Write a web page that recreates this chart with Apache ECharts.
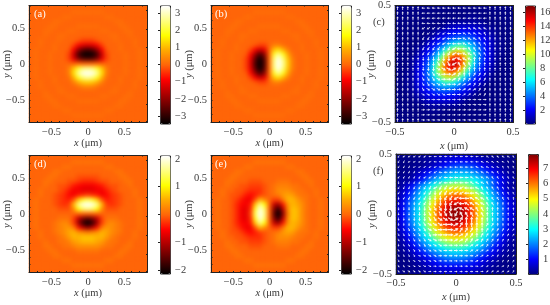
<!DOCTYPE html>
<html><head><meta charset="utf-8">
<style>html,body{margin:0;padding:0;background:#fff}#c{width:550px;height:305px}</style>
<script src="https://cdn.jsdelivr.net/npm/echarts@6/dist/echarts.min.js"></script>
</head><body><div id="c"></div>
<script>
// Field values on a 25x25 lattice, top row first (tenths of the colourbar unit)
const fieldA=[
[0,0,0,0,0,0,0,0,0,0,0,0,0,0,0,0,0,0,0,0,0,0,0,0,0],
[0,0,0,0,0,0,0,0,0,1,1,1,1,1,1,1,0,0,0,0,0,0,0,0,0],
[0,0,0,0,0,0,0,1,1,0,0,0,0,0,0,0,1,1,0,0,0,0,0,0,0],
[0,0,0,0,0,1,1,0,0,0,0,0,0,0,0,0,0,0,1,1,0,0,0,0,0],
[0,0,0,0,1,1,0,0,0,0,1,1,1,1,1,0,0,0,0,1,1,0,0,0,0],
[0,0,0,1,1,0,0,0,1,1,0,0,0,0,0,1,1,0,0,0,1,1,0,0,0],
[0,0,0,1,0,0,1,1,0,0,0,0,0,0,0,0,0,1,1,0,0,1,0,0,0],
[0,0,1,0,0,0,1,0,0,0,-1,-3,-3,-3,-1,0,0,0,1,0,0,0,1,0,0],
[0,0,1,0,0,1,0,0,0,-3,-8,-11,-12,-11,-8,-3,0,0,0,1,0,0,1,0,0],
[0,1,0,0,0,1,0,0,-1,-9,-19,-25,-27,-25,-19,-9,-1,0,0,1,0,0,0,1,0],
[0,1,0,0,1,0,0,0,-3,-14,-27,-33,-34,-33,-27,-14,-3,0,0,0,1,0,0,1,0],
[0,1,0,0,1,0,0,0,-3,-11,-20,-25,-26,-25,-20,-11,-3,0,0,0,1,0,0,1,0],
[0,1,0,0,1,0,0,0,0,0,0,0,0,0,0,0,0,0,0,0,1,0,0,1,0],
[0,1,0,0,1,0,0,0,3,11,20,25,26,25,20,11,3,0,0,0,1,0,0,1,0],
[0,1,0,0,1,0,0,0,3,14,27,33,34,33,27,14,3,0,0,0,1,0,0,1,0],
[0,1,0,0,0,1,0,0,1,9,19,25,27,25,19,9,1,0,0,1,0,0,0,1,0],
[0,0,1,0,0,1,0,0,0,3,8,11,12,11,8,3,0,0,0,1,0,0,1,0,0],
[0,0,1,0,0,0,1,0,0,0,1,3,3,3,1,0,0,0,1,0,0,0,1,0,0],
[0,0,0,1,0,0,1,1,0,0,0,0,0,0,0,0,0,1,1,0,0,1,0,0,0],
[0,0,0,1,1,0,0,0,1,1,0,0,0,0,0,1,1,0,0,0,1,1,0,0,0],
[0,0,0,0,1,1,0,0,0,0,1,1,1,1,1,0,0,0,0,1,1,0,0,0,0],
[0,0,0,0,0,1,1,0,0,0,0,0,0,0,0,0,0,0,1,1,0,0,0,0,0],
[0,0,0,0,0,0,0,1,1,0,0,0,0,0,0,0,1,1,0,0,0,0,0,0,0],
[0,0,0,0,0,0,0,0,0,1,1,1,1,1,1,1,0,0,0,0,0,0,0,0,0],
[0,0,0,0,0,0,0,0,0,0,0,0,0,0,0,0,0,0,0,0,0,0,0,0,0]];
const fieldB=[
[0,0,0,0,0,0,0,0,0,0,0,0,0,0,0,0,0,0,0,0,0,0,0,0,0],
[0,0,0,0,0,0,0,0,0,1,1,1,1,1,1,1,0,0,0,0,0,0,0,0,0],
[0,0,0,0,0,0,0,1,1,0,0,0,0,0,0,0,1,1,0,0,0,0,0,0,0],
[0,0,0,0,0,1,1,0,0,0,0,0,0,0,0,0,0,0,1,1,0,0,0,0,0],
[0,0,0,0,1,1,0,0,0,0,1,1,1,1,1,0,0,0,0,1,1,0,0,0,0],
[0,0,0,1,1,0,0,0,1,1,0,0,0,0,0,1,1,0,0,0,1,1,0,0,0],
[0,0,0,1,0,0,1,1,0,0,0,0,0,0,0,0,0,1,1,0,0,1,0,0,0],
[0,0,1,0,0,0,1,0,0,0,0,0,0,0,0,0,0,0,1,0,0,0,1,0,0],
[0,0,1,0,0,1,0,0,0,-1,-3,-3,0,3,3,1,0,0,0,1,0,0,1,0,0],
[0,1,0,0,0,1,0,0,-3,-9,-14,-11,0,11,14,9,3,0,0,1,0,0,0,1,0],
[0,1,0,0,1,0,0,-1,-8,-19,-27,-20,0,20,27,19,8,1,0,0,1,0,0,1,0],
[0,1,0,0,1,0,0,-3,-11,-25,-33,-25,0,25,33,25,11,3,0,0,1,0,0,1,0],
[0,1,0,0,1,0,0,-3,-12,-27,-34,-26,0,26,34,27,12,3,0,0,1,0,0,1,0],
[0,1,0,0,1,0,0,-3,-11,-25,-33,-25,0,25,33,25,11,3,0,0,1,0,0,1,0],
[0,1,0,0,1,0,0,-1,-8,-19,-27,-20,0,20,27,19,8,1,0,0,1,0,0,1,0],
[0,1,0,0,0,1,0,0,-3,-9,-14,-11,0,11,14,9,3,0,0,1,0,0,0,1,0],
[0,0,1,0,0,1,0,0,0,-1,-3,-3,0,3,3,1,0,0,0,1,0,0,1,0,0],
[0,0,1,0,0,0,1,0,0,0,0,0,0,0,0,0,0,0,1,0,0,0,1,0,0],
[0,0,0,1,0,0,1,1,0,0,0,0,0,0,0,0,0,1,1,0,0,1,0,0,0],
[0,0,0,1,1,0,0,0,1,1,0,0,0,0,0,1,1,0,0,0,1,1,0,0,0],
[0,0,0,0,1,1,0,0,0,0,1,1,1,1,1,0,0,0,0,1,1,0,0,0,0],
[0,0,0,0,0,1,1,0,0,0,0,0,0,0,0,0,0,0,1,1,0,0,0,0,0],
[0,0,0,0,0,0,0,1,1,0,0,0,0,0,0,0,1,1,0,0,0,0,0,0,0],
[0,0,0,0,0,0,0,0,0,1,1,1,1,1,1,1,0,0,0,0,0,0,0,0,0],
[0,0,0,0,0,0,0,0,0,0,0,0,0,0,0,0,0,0,0,0,0,0,0,0,0]];
const fieldD=[
[0,0,0,0,0,0,0,0,0,0,0,0,0,0,0,0,0,0,0,0,0,0,0,0,0],
[0,0,0,0,0,0,0,0,0,1,1,1,1,1,1,1,0,0,0,0,0,0,0,0,0],
[0,0,0,0,0,0,0,1,1,0,0,0,0,0,0,0,1,1,0,0,0,0,0,0,0],
[0,0,0,0,0,1,1,0,0,0,0,0,0,0,0,0,0,0,1,1,0,0,0,0,0],
[0,0,0,0,1,1,0,0,0,0,-1,-1,-1,-1,-1,0,0,0,0,1,1,0,0,0,0],
[0,0,0,1,1,0,0,0,-1,-1,-2,-3,-3,-3,-2,-1,-1,0,0,0,1,1,0,0,0],
[0,0,0,1,0,0,-1,-1,-2,-4,-5,-6,-6,-6,-5,-4,-2,-1,-1,0,0,1,0,0,0],
[0,0,1,0,0,0,-1,-2,-4,-6,-6,-7,-7,-7,-6,-6,-4,-2,-1,0,0,0,1,0,0],
[0,0,1,0,0,-1,-2,-3,-5,-6,-4,-3,-2,-3,-4,-6,-5,-3,-2,-1,0,0,1,0,0],
[0,1,0,0,0,-1,-2,-3,-4,-1,7,12,14,12,7,-1,-4,-3,-2,-1,0,0,0,1,0],
[0,1,0,0,0,-1,-2,-3,-2,6,16,20,21,20,16,6,-2,-3,-2,-1,0,0,0,1,0],
[0,1,0,0,0,0,-1,-1,-1,3,11,15,16,15,11,3,-1,-1,-1,0,0,0,0,1,0],
[0,1,0,0,0,0,0,0,0,0,0,0,0,0,0,0,0,0,0,0,0,0,0,1,0],
[0,1,0,0,0,0,1,1,1,-2,-9,-13,-15,-13,-9,-2,1,1,1,0,0,0,0,1,0],
[0,1,0,0,0,1,2,3,2,-2,-11,-18,-21,-18,-11,-2,2,3,2,1,0,0,0,1,0],
[0,1,0,0,0,1,2,3,4,2,-4,-9,-12,-9,-4,2,4,3,2,1,0,0,0,1,0],
[0,0,1,0,0,1,2,3,5,6,4,3,2,3,4,6,5,3,2,1,0,0,1,0,0],
[0,0,1,0,0,0,1,2,4,6,6,7,7,7,6,6,4,2,1,0,0,0,1,0,0],
[0,0,0,1,0,0,1,1,2,4,5,6,6,6,5,4,2,1,1,0,0,1,0,0,0],
[0,0,0,1,1,0,0,1,1,2,3,3,3,3,3,2,1,1,0,0,1,1,0,0,0],
[0,0,0,0,1,1,0,0,0,0,1,1,1,1,1,0,0,0,0,1,1,0,0,0,0],
[0,0,0,0,0,1,1,0,0,0,0,0,0,0,0,0,0,0,1,1,0,0,0,0,0],
[0,0,0,0,0,0,0,1,1,0,0,0,0,0,0,0,1,1,0,0,0,0,0,0,0],
[0,0,0,0,0,0,0,0,0,1,1,1,1,1,1,1,0,0,0,0,0,0,0,0,0],
[0,0,0,0,0,0,0,0,0,0,0,0,0,0,0,0,0,0,0,0,0,0,0,0,0]];
const fieldE=[
[0,0,0,0,0,0,0,0,0,0,0,0,0,0,0,0,0,0,0,0,0,0,0,0,0],
[0,0,0,0,0,0,0,0,0,1,1,1,1,1,1,1,0,0,0,0,0,0,0,0,0],
[0,0,0,0,0,0,0,1,1,0,0,0,0,0,0,0,1,1,0,0,0,0,0,0,0],
[0,0,0,0,0,1,1,0,0,0,0,0,0,0,0,0,0,0,1,1,0,0,0,0,0],
[0,0,0,0,1,1,0,0,0,0,0,0,0,0,0,0,0,0,0,1,1,0,0,0,0],
[0,0,0,1,1,0,0,0,-1,-1,-1,0,0,0,1,1,1,0,0,0,1,1,0,0,0],
[0,0,0,1,0,0,-1,-1,-2,-2,-2,-1,0,1,2,2,2,1,1,0,0,1,0,0,0],
[0,0,1,0,0,-1,-1,-2,-3,-3,-3,-1,0,1,3,3,3,2,1,1,0,0,1,0,0],
[0,0,1,0,-1,-1,-2,-4,-5,-4,-2,-1,0,1,2,4,5,4,2,1,1,0,1,0,0],
[0,1,0,0,-1,-2,-4,-6,-6,-1,6,3,0,-2,-2,2,6,6,4,2,1,0,0,1,0],
[0,1,0,0,-1,-3,-5,-6,-4,7,16,11,0,-9,-11,-4,4,6,5,3,1,0,0,1,0],
[0,1,0,0,-1,-3,-6,-7,-3,12,20,15,0,-13,-18,-9,3,7,6,3,1,0,0,1,0],
[0,1,0,0,-1,-3,-6,-7,-2,14,21,16,0,-15,-21,-12,2,7,6,3,1,0,0,1,0],
[0,1,0,0,-1,-3,-6,-7,-3,12,20,15,0,-13,-18,-9,3,7,6,3,1,0,0,1,0],
[0,1,0,0,-1,-3,-5,-6,-4,7,16,11,0,-9,-11,-4,4,6,5,3,1,0,0,1,0],
[0,1,0,0,-1,-2,-4,-6,-6,-1,6,3,0,-2,-2,2,6,6,4,2,1,0,0,1,0],
[0,0,1,0,-1,-1,-2,-4,-5,-4,-2,-1,0,1,2,4,5,4,2,1,1,0,1,0,0],
[0,0,1,0,0,-1,-1,-2,-3,-3,-3,-1,0,1,3,3,3,2,1,1,0,0,1,0,0],
[0,0,0,1,0,0,-1,-1,-2,-2,-2,-1,0,1,2,2,2,1,1,0,0,1,0,0,0],
[0,0,0,1,1,0,0,0,-1,-1,-1,0,0,0,1,1,1,0,0,0,1,1,0,0,0],
[0,0,0,0,1,1,0,0,0,0,0,0,0,0,0,0,0,0,0,1,1,0,0,0,0],
[0,0,0,0,0,1,1,0,0,0,0,0,0,0,0,0,0,0,1,1,0,0,0,0,0],
[0,0,0,0,0,0,0,1,1,0,0,0,0,0,0,0,1,1,0,0,0,0,0,0,0],
[0,0,0,0,0,0,0,0,0,1,1,1,1,1,1,1,0,0,0,0,0,0,0,0,0],
[0,0,0,0,0,0,0,0,0,0,0,0,0,0,0,0,0,0,0,0,0,0,0,0,0]];
const fieldC=[
[2,2,2,2,2,2,2,2,2,2,2,2,2,2,2,2,2,2,2,2,2,2,2,2,2],
[2,2,2,2,2,2,2,2,2,2,2,2,2,2,2,2,2,2,2,2,2,2,2,2,2],
[2,2,2,2,2,2,2,2,2,2,2,2,2,2,2,5,5,5,2,2,2,2,2,2,2],
[2,2,2,2,2,2,2,2,2,2,2,5,5,6,6,6,6,6,5,2,2,2,2,2,2],
[2,2,2,2,2,2,2,2,2,2,6,10,12,14,14,14,14,12,10,6,5,2,2,2,2],
[2,2,2,2,2,2,2,2,5,10,12,17,20,21,23,21,20,19,14,10,6,5,2,2,2],
[2,2,2,2,2,2,2,5,10,16,20,26,30,32,34,32,30,24,19,14,10,5,2,2,2],
[2,2,2,2,2,2,5,12,17,23,31,39,44,48,49,44,40,31,24,19,12,6,5,2,2],
[2,2,2,2,2,5,10,17,24,34,43,56,66,73,72,60,50,40,30,20,14,6,5,2,2],
[2,2,2,2,5,10,16,23,34,47,63,79,95,100,94,78,60,44,32,21,14,6,5,2,2],
[2,2,2,2,6,12,20,30,43,63,87,109,125,128,115,94,72,49,34,23,14,6,5,2,2],
[2,2,2,5,10,17,26,39,56,79,109,135,151,147,128,100,73,48,32,21,14,6,2,2,2],
[2,2,2,5,12,19,30,44,66,95,125,151,165,151,125,95,66,44,30,19,12,5,2,2,2],
[2,2,2,6,14,21,32,48,73,100,128,147,151,135,109,79,56,39,26,17,10,5,2,2,2],
[2,2,5,6,14,23,34,49,72,94,115,128,125,109,87,63,43,30,20,12,6,2,2,2,2],
[2,2,5,6,14,21,32,44,60,78,94,100,95,79,63,47,34,23,16,10,5,2,2,2,2],
[2,2,5,6,14,20,30,40,50,60,72,73,66,56,43,34,24,17,10,5,2,2,2,2,2],
[2,2,5,6,12,19,24,31,40,44,49,48,44,39,31,23,17,12,5,2,2,2,2,2,2],
[2,2,2,5,10,14,19,24,30,32,34,32,30,26,20,16,10,5,2,2,2,2,2,2,2],
[2,2,2,5,6,10,14,19,20,21,23,21,20,17,12,10,5,2,2,2,2,2,2,2,2],
[2,2,2,2,5,6,10,12,14,14,14,14,12,10,6,2,2,2,2,2,2,2,2,2,2],
[2,2,2,2,2,2,5,6,6,6,6,6,5,5,2,2,2,2,2,2,2,2,2,2,2],
[2,2,2,2,2,2,2,5,5,5,2,2,2,2,2,2,2,2,2,2,2,2,2,2,2],
[2,2,2,2,2,2,2,2,2,2,2,2,2,2,2,2,2,2,2,2,2,2,2,2,2],
[2,2,2,2,2,2,2,2,2,2,2,2,2,2,2,2,2,2,2,2,2,2,2,2,2]];
const fieldF=[
[1,1,1,1,1,2,2,3,4,5,6,6,6,6,6,5,4,3,2,2,1,1,1,1,1],
[1,1,1,1,2,2,3,4,5,7,8,9,10,10,10,9,8,7,5,4,3,2,2,1,1],
[1,1,1,2,2,2,4,5,7,9,11,14,15,16,16,15,14,11,9,7,5,4,2,2,1],
[1,1,2,2,4,6,8,11,14,17,19,21,22,22,22,21,19,17,14,11,8,6,4,2,1],
[1,2,2,4,6,9,12,16,19,22,24,26,27,27,27,26,24,22,19,16,12,9,6,4,2],
[2,3,2,5,8,12,17,21,25,27,30,33,34,35,34,33,30,27,25,21,17,12,8,5,3],
[2,4,7,11,16,21,24,29,33,38,41,43,44,43,41,38,33,29,24,21,16,11,7,4,2],
[3,5,9,14,19,25,29,35,41,45,49,51,52,51,49,45,41,35,29,25,19,14,9,5,3],
[4,7,11,17,22,27,33,41,47,52,56,59,60,59,56,52,47,41,33,27,22,17,11,7,4],
[5,8,14,19,24,30,38,45,52,58,63,66,67,66,63,58,52,45,38,30,24,19,14,8,5],
[6,9,15,21,26,33,41,49,56,63,68,72,74,72,68,63,56,49,41,33,26,21,15,9,6],
[6,10,16,22,27,34,43,51,59,66,72,76,78,76,72,66,59,51,43,34,27,22,16,10,6],
[6,10,16,22,27,35,44,52,60,67,74,78,78,78,74,67,60,52,44,35,27,22,16,10,6],
[6,10,16,22,27,34,43,51,59,66,72,76,78,76,72,66,59,51,43,34,27,22,16,10,6],
[6,9,15,21,26,33,41,49,56,63,68,72,74,72,68,63,56,49,41,33,26,21,15,9,6],
[5,8,14,19,24,30,38,45,52,58,63,66,67,66,63,58,52,45,38,30,24,19,14,8,5],
[4,7,11,17,22,27,33,41,47,52,56,59,60,59,56,52,47,41,33,27,22,17,11,7,4],
[3,5,9,14,19,25,29,35,41,45,49,51,52,51,49,45,41,35,29,25,19,14,9,5,3],
[2,4,7,11,16,21,24,29,33,38,41,43,44,43,41,38,33,29,24,21,16,11,7,4,2],
[2,3,5,8,12,17,21,25,27,30,33,34,35,34,33,30,27,25,21,17,12,8,5,3,2],
[1,2,4,6,9,12,16,19,22,24,26,27,27,27,26,24,22,19,16,12,9,6,4,2,1],
[1,1,2,4,6,8,11,14,17,19,21,22,22,22,21,19,17,14,11,8,6,4,2,1,1],
[1,1,1,2,4,5,7,9,11,14,15,16,16,16,15,14,11,9,7,5,4,2,1,1,1],
[1,1,1,2,2,4,5,7,8,9,10,10,10,10,10,9,8,7,5,4,2,2,1,1,1],
[1,1,1,1,2,2,3,4,5,6,6,6,6,6,6,6,5,4,3,2,2,1,1,1,1]];
// Arrow directions on a 23x23 lattice, top row first, in steps of 30 degrees anticlockwise from +x
const arrowsC=[
[3,3,3,3,3,6,6,6,6,6,6,6,6,6,6,6,6,6,3,3,3,3,3],
[3,3,3,3,3,6,6,6,6,6,6,6,6,6,6,6,6,6,3,3,3,3,3],
[3,3,3,3,3,6,6,6,6,6,6,6,6,6,6,6,6,6,3,3,3,3,3],
[3,3,3,3,3,6,6,6,6,6,6,6,6,6,6,6,6,6,3,3,3,3,3],
[3,3,3,3,3,7,7,7,7,6,6,6,6,6,5,5,5,5,3,3,3,3,3],
[3,3,3,3,3,8,7,7,7,7,6,6,6,5,5,5,5,4,3,3,3,3,3],
[3,3,3,3,3,8,8,7,7,7,6,6,6,5,5,5,4,4,3,3,3,3,3],
[3,3,3,3,3,8,8,8,7,7,6,6,6,5,5,4,4,4,3,3,3,3,3],
[3,3,3,3,3,8,8,8,8,8,8,7,6,6,4,4,4,4,3,3,3,3,3],
[3,3,3,3,3,8,8,8,9,9,8,7,6,5,5,4,4,4,3,3,3,3,3],
[3,3,3,3,3,9,9,9,9,9,9,7,5,5,5,3,3,3,3,3,3,3,3],
[3,3,3,3,3,9,9,9,10,10,10,7,4,4,4,3,3,3,3,3,3,3,3],
[3,3,3,3,3,9,9,9,11,11,11,1,2,3,3,3,3,3,3,3,3,3,3],
[3,3,3,3,3,10,10,10,11,0,0,1,2,3,3,2,2,2,3,3,3,3,3],
[3,3,3,3,3,10,10,10,11,0,0,1,2,2,2,2,2,2,3,3,3,3,3],
[3,3,3,3,3,10,10,11,11,11,0,0,1,1,1,2,2,2,3,3,3,3,3],
[3,3,3,3,3,10,11,11,11,0,0,0,0,1,1,1,2,2,3,3,3,3,3],
[3,3,3,3,3,11,11,11,11,11,0,0,0,1,1,1,1,2,3,3,3,3,3],
[3,3,3,3,3,0,0,0,0,0,0,0,0,0,0,0,0,0,3,3,3,3,3],
[3,3,3,3,3,0,0,0,0,0,0,0,0,0,0,0,0,0,3,3,3,3,3],
[3,3,3,3,3,0,0,0,0,0,0,0,0,0,0,0,0,0,3,3,3,3,3],
[3,3,3,3,3,0,0,0,0,0,0,0,0,0,0,0,0,0,3,3,3,3,3],
[3,3,3,3,3,0,0,0,0,0,0,0,0,0,0,0,0,0,3,3,3,3,3]];
const arrowsF=[
[8,7,7,7,7,7,6,6,6,6,6,6,6,6,6,6,6,5,5,5,5,5,4],
[8,8,7,7,7,7,7,6,6,6,6,6,6,6,6,6,5,5,5,5,5,4,4],
[8,8,8,7,7,7,7,7,6,6,6,6,6,6,6,5,5,5,5,5,4,4,4],
[8,8,8,8,7,7,7,7,6,6,6,6,6,6,6,5,5,5,5,4,4,4,4],
[8,8,8,8,8,7,7,7,7,6,6,6,6,6,5,5,5,5,4,4,4,4,4],
[9,8,8,8,8,8,7,7,7,6,6,6,6,6,5,5,5,4,4,4,4,4,3],
[8,8,8,8,8,8,8,7,8,8,7,7,7,6,6,5,4,4,4,4,4,4,4],
[8,8,8,8,8,8,8,9,8,8,7,7,7,6,6,5,5,4,4,4,4,4,4],
[9,8,8,8,8,8,9,9,9,8,8,7,6,6,5,5,5,4,4,4,4,4,3],
[9,9,9,9,8,8,9,9,9,9,8,7,6,5,5,5,5,4,4,3,3,3,3],
[9,9,9,9,9,9,10,10,10,9,9,7,5,5,5,4,4,3,3,3,3,3,3],
[9,9,9,9,9,9,10,10,10,10,10,8,4,4,4,4,4,3,3,3,3,3,3],
[9,9,9,9,9,9,10,10,11,11,11,1,2,3,3,3,3,3,3,3,3,3,3],
[9,9,9,9,10,10,11,11,11,0,0,1,2,3,3,3,3,2,2,3,3,3,3],
[10,10,10,10,10,10,11,11,0,0,0,1,2,2,2,3,3,2,2,2,2,2,2],
[10,10,10,10,10,10,10,0,0,0,0,1,1,2,2,3,2,2,2,2,2,2,2],
[10,10,10,10,10,10,11,11,0,0,0,1,1,2,2,1,2,2,2,2,2,2,2],
[9,10,10,10,10,10,11,11,11,0,0,0,0,0,1,1,1,2,2,2,2,2,3],
[10,10,10,10,10,11,11,11,11,0,0,0,0,0,1,1,1,1,2,2,2,2,2],
[10,10,10,10,11,11,11,11,0,0,0,0,0,0,0,1,1,1,1,2,2,2,2],
[10,10,10,11,11,11,11,11,0,0,0,0,0,0,0,1,1,1,1,1,2,2,2],
[10,10,11,11,11,11,11,0,0,0,0,0,0,0,0,0,1,1,1,1,1,2,2],
[10,11,11,11,11,11,0,0,0,0,0,0,0,0,0,0,0,1,1,1,1,1,2]];
// Tick labels
const xyTicks=[-0.5,0,0.5];
const barTicksAB=[-3,-2,-1,0,1,2,3];
const barTicksDE=[-2,-1,0,1,2];
const barTicksC=[2,4,6,8,10,12,14,16];
const barTicksF=[1,2,3,4,5,6,7];
const letters=['(a)','(b)','(c)','(d)','(e)','(f)'];

const HOT=['#000000','#550000','#aa0000','#ff0000','#ff6508','#ffaa00','#ffff00','#ffff80','#ffffff'];
const JET=['#00007f','#0000ff','#007fff','#00ffff','#7fff7f','#ffff00','#ff7f00','#ff0000','#7f0000'];
const FONT='"Liberation Serif","DejaVu Serif",serif', INK='#3a3a3a', FS=10.5;

const panels=[
 {f:fieldA,range:0.81,vmin:-3.44,vmax:3.44,ticks:barTicksAB,pal:HOT,g:[29,5.5,118,117],b:[160,5.5,10,118],gapY:16,gapX:15.5,l:[34,14,'#fff']},
 {f:fieldB,range:0.81,vmin:-3.44,vmax:3.44,ticks:barTicksAB,pal:HOT,g:[211,5.5,117,117],b:[341,5.5,10,118],gapY:16,gapX:15.5,l:[215,14,'#fff']},
 {f:fieldC,range:0.5,vmin:0.14,vmax:17,ticks:barTicksC,pal:JET,g:[395,5.5,118,117],b:[525,5.5,10,118],gapY:18,gapX:18,l:[373,22,INK],arrows:arrowsC,a0:3.8,a1:2},
 {f:fieldD,range:0.81,vmin:-2.12,vmax:2.12,ticks:barTicksDE,pal:HOT,g:[29,155.5,118,117],b:[160,155.5,10,118],gapY:16,gapX:15.5,l:[34,164,'#fff']},
 {f:fieldE,range:0.81,vmin:-2.12,vmax:2.12,ticks:barTicksDE,pal:HOT,g:[211,155.5,117,117],b:[341,155.5,10,118],gapY:16,gapX:15.5,l:[215,164,'#fff']},
 {f:fieldF,range:0.5,vmin:0.05,vmax:7.93,ticks:barTicksF,pal:JET,g:[396,154,120,120],b:[528,154,10,120],gapY:18,gapX:17.5,l:[373,171,INK],arrows:arrowsF,a0:3,a1:3.2}
];
const fmt=v=>String(v).replace('-','\u2212');
const axisName={fontFamily:FONT,fontSize:FS,color:INK,rich:{i:{fontStyle:'italic',fontFamily:FONT,fontSize:FS,color:INK}}};
const minor=r=>{const o=[];for(let k=-Math.floor(r*10);k<=Math.floor(r*10);k++)o.push(k/10);return o;};
const grid=[],xAxis=[],yAxis=[],series=[],visualMap=[],graphic=[];
panels.forEach((p,idx)=>{
  const n=p.f.length,cats=p.f.map((_,i)=>i);
  const gi=grid.length; grid.push({left:p.g[0],top:p.g[1],width:p.g[2],height:p.g[3],outerBoundsMode:'none'});
  const frame={show:true,onZero:false,lineStyle:{color:'#222',width:1}};
  const tickCat={show:true,inside:true,length:1,lineStyle:{color:'#222'}};
  const cx=xAxis.length;
  xAxis.push({type:'category',gridIndex:gi,data:cats,position:'top',zlevel:2,axisLine:frame,axisTick:tickCat,axisLabel:{show:false},splitLine:{show:false}});
  xAxis.push({type:'value',gridIndex:gi,min:-p.range,max:p.range,position:'bottom',zlevel:2,axisLine:frame,
    axisTick:{show:true,inside:true,length:1.5,customValues:minor(p.range),lineStyle:{color:'#222'}},
    axisLabel:{fontFamily:FONT,fontSize:FS,color:INK,margin:4,customValues:xyTicks,formatter:fmt},splitLine:{show:false},
    name:'{i|x} (\u03bcm)',nameLocation:'middle',nameGap:p.gapX,nameMoveOverlap:false,nameTextStyle:axisName});
  const cy=yAxis.length;
  yAxis.push({type:'category',gridIndex:gi,data:cats,position:'right',zlevel:2,axisLine:frame,axisTick:tickCat,axisLabel:{show:false},splitLine:{show:false}});
  yAxis.push({type:'value',gridIndex:gi,min:-p.range,max:p.range,position:'left',zlevel:2,axisLine:frame,
    axisTick:{show:true,inside:true,length:1.5,customValues:minor(p.range),lineStyle:{color:'#222'}},
    axisLabel:{fontFamily:FONT,fontSize:FS,color:INK,margin:4,customValues:xyTicks,formatter:fmt},splitLine:{show:false},
    name:'{i|y} (\u03bcm)',nameLocation:'middle',nameGap:p.gapY,nameMoveOverlap:false,nameTextStyle:axisName});
  const cells=[];
  p.f.forEach((row,r)=>row.forEach((v,c)=>cells.push([c,n-1-r,v/10])));
  const hs=series.length;
  // same cells twice: a crisp base layer and a softened layer on top of it
  series.push({type:'heatmap',xAxisIndex:cx,yAxisIndex:cy,data:cells,silent:true,animation:false,progressive:0,zlevel:0});
  series.push({type:'heatmap',xAxisIndex:cx,yAxisIndex:cy,data:cells,silent:true,animation:false,progressive:0,zlevel:1});
  visualMap.push({type:'continuous',seriesIndex:[hs,hs+1],dimension:2,min:p.vmin,max:p.vmax,inRange:{color:p.pal},calculable:false,showLabel:false,
    left:p.b[0],top:p.b[1],itemWidth:p.b[2],itemHeight:p.b[3],padding:0,borderColor:'#222',borderWidth:1});
  if(p.arrows){
    const m=p.arrows.length,pts=[];
    p.arrows.forEach((row,r)=>row.forEach((a,c)=>{
      const x=-p.range+(c+0.5)*2*p.range/m, y=p.range-(r+0.5)*2*p.range/m;
      const fr=Math.min(n-1,Math.floor((r+0.5)*n/m)), fc=Math.min(n-1,Math.floor((c+0.5)*n/m));
      pts.push([x,y,a*30,p.a0+p.a1*(p.f[fr][fc]/10)/p.vmax]);
    }));
    series.push({type:'scatter',xAxisIndex:cx+1,yAxisIndex:cy+1,data:pts,silent:true,animation:false,zlevel:2,
      symbol:'path://M-1,5 L-1,0 L-3,0 L0,-5 L3,0 L1,0 L1,5 Z',
      symbolSize:d=>[d[3]*0.62,d[3]],symbolRotate:d=>d[2]-90,symbolKeepAspect:false,
      itemStyle:{color:'#fff',opacity:0.9}});
  }
  // colourbar tick labels
  const gb=grid.length; grid.push({left:p.b[0],top:p.b[1],width:p.b[2],height:p.b[3],outerBoundsMode:'none'});
  xAxis.push({type:'value',gridIndex:gb,show:false,min:0,max:1});
  yAxis.push({type:'value',gridIndex:gb,min:p.vmin,max:p.vmax,position:'right',zlevel:2,axisLine:{show:false},
    axisTick:{show:true,inside:true,length:2,customValues:p.ticks,lineStyle:{color:'#222'}},
    axisLabel:{fontFamily:FONT,fontSize:FS,color:INK,margin:5,customValues:p.ticks,formatter:fmt},splitLine:{show:false}});
  graphic.push({type:'text',left:p.l[0],top:p.l[1]-5,zlevel:2,z:10,style:{text:letters[idx],fontFamily:FONT,fontSize:FS,fill:p.l[2]}});
});
// soften the upper heatmap layer, trimmed to the plot frames
const clip=panels.map(p=>`M${p.g[0]} ${p.g[1]}h${p.g[2]}v${p.g[3]}h${-p.g[2]}z`).join(' ');
const st=document.createElement('style');
st.textContent=`canvas[data-zr-dom-id="zr_1"]{filter:blur(2px);clip-path:path('${clip}');}`;
document.head.appendChild(st);
const chart=echarts.init(document.getElementById('c'),null,{renderer:'canvas'});
chart.setOption({animation:false,grid,xAxis,yAxis,series,visualMap,graphic});
</script></body></html>
